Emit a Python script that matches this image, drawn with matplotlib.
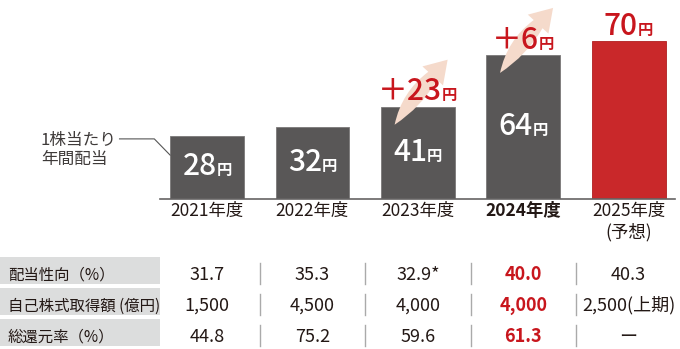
import matplotlib
matplotlib.use('Agg')
import matplotlib.pyplot as plt
from matplotlib.patches import Rectangle, PathPatch
from matplotlib.path import Path
from matplotlib.transforms import Affine2D

plt.rcParams['font.family'] = ['Noto Sans CJK JP', 'DejaVu Sans']

# data
years = ['2021年度', '2022年度', '2023年度', '2024年度', '2025年度\n(予想)']
dividend = [28, 32, 41, 64, 70]
increase = [None, None, 23, 6, None]
row_labels = ['配当性向（%）', '自己株式取得額 (億円)', '総還元率（%）']
payout = ['31.7', '35.3', '32.9*', '40.0', '40.3']
buyback = ['1,500', '4,500', '4,000', '4,000', '2,500(上期)']
total_return = ['44.8', '75.2', '59.6', '61.3', 'ー']
table_rows = [payout, buyback, total_return]
current = 3    # 2024 -> highlighted
forecast = 4   # 2025 -> red bar

GRAY = '#595757'
RED = '#c9282a'
RED_TXT = '#c8161d'
BLACK = '#231815'
PEACH = '#f5dacb'

W, H = 680, 349
fig = plt.figure(figsize=(W / 100, H / 100), dpi=100)

def fy(px):  # pixel row from top -> figure fraction
    return 1 - px / H

base_px = 199
ax = fig.add_axes([160 / W, fy(base_px), 515 / W, base_px / H])
ax.set_xlim(-0.446, 4.44)
ax.set_ylim(0, 88.4)

x = list(range(len(years)))
colors = [RED if i == forecast else GRAY for i in x]
edges = ['#b01e20' if i == forecast else '#7a7878' for i in x]
ax.bar(x, dividend, width=0.70, color=colors, edgecolor=edges, linewidth=0.6, zorder=2)

for s in ['top', 'right', 'left']:
    ax.spines[s].set_visible(False)
ax.spines['bottom'].set_color('#666464')
ax.spines['bottom'].set_linewidth(1.2)
ax.set_yticks([])
ax.set_xticks(x)
ax.set_xticklabels(years, fontsize=12.5, color=BLACK, linespacing=1.25)
ax.tick_params(axis='x', length=0, pad=2)
ax.get_xticklabels()[current].set_fontweight('bold')

# leader line for "1株当たり年間配当"
ax.plot([-0.83, -0.5, -0.35], [26.7, 26.7, 19.5], color='#555555', lw=0.8, clip_on=False)
fig.text(41 / W, fy(150), '1株当たり\n年間配当', fontsize=12, color='#3e3a39',
         ha='left', va='center', linespacing=1.2)

# growth arrows (shape in pixels, tail anchored inside bar top)
def arrow_path():
    verts = [(0, 0), (7, 33), (33.7, 52.9), (27.8, 58.3), (53, 65), (48.4, 39.3),
             (42.5, 44.7), (26.7, 17.6), (0, 0), (0, 0)]
    codes = [Path.MOVETO, Path.CURVE3, Path.CURVE3, Path.LINETO, Path.LINETO,
             Path.LINETO, Path.LINETO, Path.CURVE3, Path.CURVE3, Path.CLOSEPOLY]
    return Path(verts, codes)

yen_labels = []

def yen_label(xc, yb, num, color, size=21.5, ysize=11, weight='medium'):
    t1 = ax.text(xc, yb, num, fontsize=size, color=color, ha='left', va='baseline',
                 weight=weight, zorder=6, clip_on=False)
    t2 = ax.text(xc, yb, '円', fontsize=ysize, color=color, ha='left', va='baseline',
                 weight='bold', zorder=6, clip_on=False)
    yen_labels.append((t1, t2))

for i, v in enumerate(dividend):
    if i == forecast:
        yen_label(i, v + 2.8, str(v), RED_TXT)
    else:
        yen_label(i, v / 2 - 3.5, str(v), 'white')
    if increase[i] is not None:
        tx, ty = ax.transData.transform((i - 0.22, v - 8))
        p = PathPatch(arrow_path(), facecolor=PEACH, edgecolor='none', zorder=4,
                      transform=Affine2D().translate(tx, ty), clip_on=False)
        ax.add_patch(p)
        yen_label(i, v + 2.8, '＋' + str(increase[i]), RED_TXT)

# table
row_base = [279.5, 310.5, 341.5]
for r, lab in enumerate(row_labels):
    fig.patches.append(Rectangle((0, fy(row_base[r] + 4)), 160 / W, 26.5 / H,
                                 transform=fig.transFigure, facecolor='#dcdddd',
                                 edgecolor='none', zorder=0))
    fig.text(8 / W, fy(row_base[r]), lab, fontsize=11.1, color=BLACK, ha='left', va='baseline')
    for i, val in enumerate(table_rows[r]):
        xc, _ = ax.transData.transform((i, 0))
        red = i == current
        fig.text(xc / W, fy(row_base[r]), val, fontsize=13, ha='center', va='baseline',
                 color=RED_TXT if red else BLACK, weight='bold' if red else 'normal')
        if i > 0:
            xs, _ = ax.transData.transform((i - 0.5, 0))
            fig.add_artist(plt.Line2D([xs / W, xs / W], [fy(row_base[r] + 4), fy(row_base[r] - 17)],
                                      transform=fig.transFigure, color='#aaaaaa', lw=1))

# center "number + 円" groups
fig.canvas.draw()
rend = fig.canvas.get_renderer()
for t1, t2 in yen_labels:
    w1 = t1.get_window_extent(rend).width
    w2 = t2.get_window_extent(rend).width
    t1.set_transform(ax.transData + Affine2D().translate(-(w1 + w2) / 2, 0))
    t2.set_transform(ax.transData + Affine2D().translate(w1 - (w1 + w2) / 2, 0))

fig.savefig('out.png', dpi=100)
